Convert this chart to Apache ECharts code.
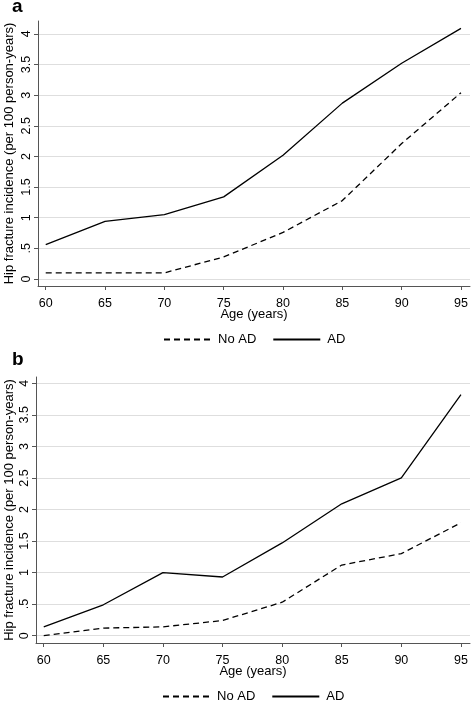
<!DOCTYPE html>
<html><head><meta charset="utf-8">
<script src="https://cdn.jsdelivr.net/npm/echarts@6/dist/echarts.min.js"></script>
<style>html,body{margin:0;padding:0;background:#fff}#c{width:472px;height:703px}</style>
</head><body><div id="c"></div>
<script>
const ages = [60, 65, 70, 75, 80, 85, 90, 95];
const aNoAD = [0.10, 0.10, 0.10, 0.36, 0.76, 1.28, 2.21, 3.04];
const aAD = [0.56, 0.94, 1.05, 1.34, 2.02, 2.87, 3.52, 4.09];
const bNoAD = [0.00, 0.12, 0.14, 0.24, 0.53, 1.12, 1.30, 1.79];
const bAD = [0.14, 0.49, 1.00, 0.93, 1.47, 2.09, 2.50, 3.82];
const xTicks = [60, 65, 70, 75, 80, 85, 90, 95];
const yTicks = [0, 0.5, 1, 1.5, 2, 2.5, 3, 3.5, 4];
const yTickLabels = ['0', '.5', '1', '1.5', '2', '2.5', '3', '3.5', '4'];
const seriesNames = ['No AD', 'AD'];
const panelLabels = ['a', 'b'];
const xTitle = 'Age (years)';
const yTitle = 'Hip fracture incidence (per 100 person-years)';

const FONT = 'Liberation Sans, Arial, sans-serif';
const AXIS_COLOR = '#555';
const pairs = (xs, ys) => xs.map((x, i) => [x, ys[i]]);

function xAxis(gi, nameGap, labelMargin) {
  return {
    type: 'value', gridIndex: gi, min: 59.35, max: 95.76,
    name: xTitle, nameLocation: 'middle', nameGap: nameGap, nameMoveOverlap: false,
    nameTextStyle: {fontFamily: FONT, fontSize: 13, color: '#000'},
    axisLine: {show: true, onZero: false, lineStyle: {color: AXIS_COLOR, width: 1}},
    axisTick: {show: true, length: 4, customValues: xTicks, lineStyle: {color: AXIS_COLOR}},
    axisLabel: {customValues: xTicks, margin: labelMargin, color: '#000', fontFamily: FONT, fontSize: 12.5},
    splitLine: {show: false}
  };
}
function yAxis(gi, min, max, nameGap) {
  return {
    type: 'value', gridIndex: gi, min: min, max: max,
    name: yTitle, nameLocation: 'middle', nameGap: nameGap, nameMoveOverlap: false,
    nameTextStyle: {fontFamily: FONT, fontSize: 13, color: '#000'},
    axisLine: {show: true, onZero: false, lineStyle: {color: AXIS_COLOR, width: 1}},
    axisTick: {show: true, length: 4, customValues: yTicks, lineStyle: {color: AXIS_COLOR}},
    axisLabel: {customValues: yTicks, rotate: 90, margin: 5, color: '#000', fontFamily: FONT, fontSize: 12.5,
      formatter: v => { const i = yTicks.indexOf(v); return i >= 0 ? yTickLabels[i] : ''; }},
    splitLine: {show: true, lineStyle: {color: '#dedede', width: 1.2}}
  };
}
function line(name, gi, data, dashed) {
  return {
    type: 'line', name: name, xAxisIndex: gi, yAxisIndex: gi,
    data: pairs(ages, data), symbol: 'none', showSymbol: false, silent: true,
    lineStyle: {color: '#000', width: 1.3, type: dashed ? [6, 4] : 'solid'},
    itemStyle: {color: '#000'}
  };
}
const legendBase = {
  data: seriesNames, orient: 'horizontal', itemWidth: 47, itemHeight: 14, itemGap: 16, padding: 0,
  textStyle: {fontFamily: FONT, fontSize: 13, color: '#000', padding: [0, 0, 0, 2]},
  itemStyle: {opacity: 0, borderWidth: 0},
  selectedMode: false
};

const chart = echarts.init(document.getElementById('c'), null, {renderer: 'canvas'});
chart.setOption({
  animation: false,
  backgroundColor: '#fff',
  grid: [
    {left: 38, top: 21, width: 432, height: 265, outerBoundsMode: 'none', containLabel: false},
    {left: 36, top: 377, width: 434, height: 266, outerBoundsMode: 'none', containLabel: false}
  ],
  xAxis: [xAxis(0, 22, 11), xAxis(1, 22, 11)],
  yAxis: [yAxis(0, -0.114, 4.21, 22), yAxis(1, -0.116, 4.1, 20)],
  legend: [
    Object.assign({}, legendBase, {left: 163, top: 333}),
    Object.assign({}, legendBase, {left: 162, top: 690})
  ],
  graphic: [
    {type: 'text', left: 12, top: -3, style: {text: panelLabels[0], font: 'bold 19px ' + FONT, fill: '#000'}},
    {type: 'text', left: 12, top: 350, style: {text: panelLabels[1], font: 'bold 19px ' + FONT, fill: '#000'}}
  ],
  series: [
    line(seriesNames[0], 0, aNoAD, true),
    line(seriesNames[1], 0, aAD, false),
    line(seriesNames[0], 1, bNoAD, true),
    line(seriesNames[1], 1, bAD, false)
  ]
});
</script></body></html>
